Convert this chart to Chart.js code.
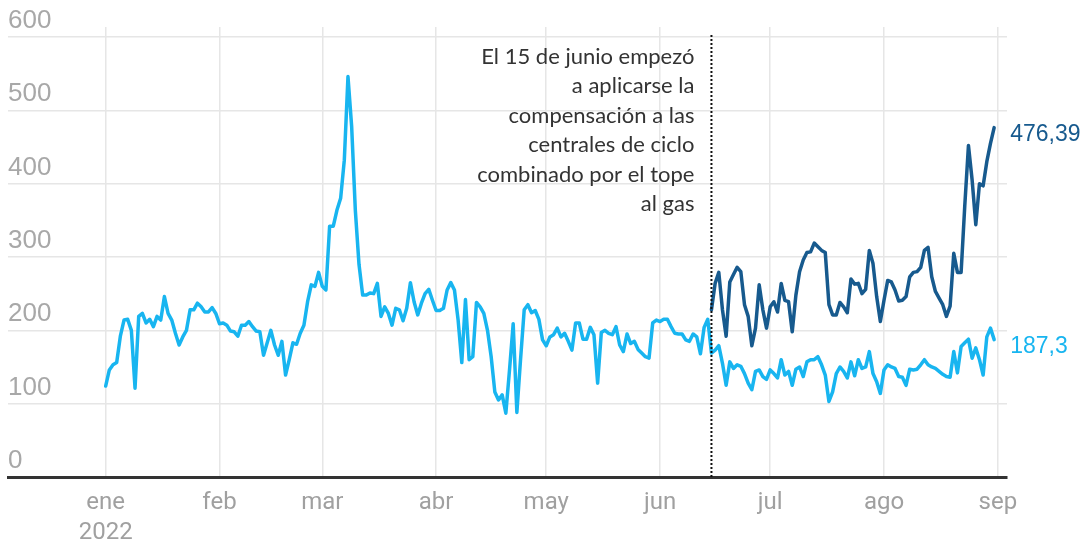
<!DOCTYPE html>
<html lang="es">
<head>
<meta charset="utf-8">
<title>Precio de la electricidad 2022</title>
<script src="https://cdn.jsdelivr.net/npm/chart.js@4.4.1/dist/chart.umd.min.js"></script>
<style>
  html, body { margin: 0; padding: 0; background: #fff; }
</style>
</head>
<body>
<canvas id="precioChart" width="1084" height="540"></canvas>
<script>
// eje x en días desde el 1 de enero de 2022
const meses = ['ene', 'feb', 'mar', 'abr', 'may', 'jun', 'jul', 'ago', 'sep'];
const inicioMes = [0, 31, 59, 90, 120, 151, 181, 212, 243];
const ejeY = [0, 100, 200, 300, 400, 500, 600];

// precio del mercado mayorista (€/MWh), diario desde el 1 de enero
const precioMercado = [
  124, 146, 153, 156, 192, 214, 215, 200, 121, 219,
  223, 210, 215, 205, 219, 214, 246, 223, 214, 196,
  180, 191, 200, 228, 228, 237, 232, 225, 225, 231,
  223, 209, 210, 207, 199, 198, 192, 207, 207, 212,
  205, 199, 198, 166, 183, 200, 180, 166, 185, 139,
  160, 183, 181, 196, 207, 239, 262, 260, 279, 260,
  255, 342, 342, 364, 380, 432, 546, 478, 364, 290,
  248, 248, 251, 250, 264, 219, 232, 223, 207, 230,
  228, 213, 230, 265, 239, 221, 237, 250, 256, 241,
  227, 227, 230, 255, 265, 255, 214, 156, 242, 160,
  164, 238, 232, 223, 200, 164, 116, 105, 112, 87,
  146, 209, 88, 160, 228, 235, 224, 227, 215, 187,
  179, 191, 194, 203, 191, 196, 185, 173, 210, 210,
  188, 188, 204, 194, 128, 197, 200, 196, 194, 205,
  180, 171, 195, 182, 185, 174, 169, 164, 162, 210,
  214, 212, 215, 215, 205, 196, 195, 195, 187, 185,
  195, 191, 168, 204, 215, 169, 173, 179, 155, 125,
  157, 148, 153, 151, 141, 128, 119, 144, 146, 137,
  133, 146, 141, 135, 160, 139, 144, 125, 147, 150,
  137, 157, 160, 160, 164, 153, 139, 103, 116, 141,
  150, 144, 135, 157, 138, 160, 148, 150, 171, 141,
  130, 114, 146, 153, 150, 148, 137, 136, 125, 147,
  146, 147, 153, 160, 153, 150, 148, 144, 140, 137,
  136, 171, 142, 178, 183, 188, 162, 176, 160, 139,
  191, 203, 187.3
];

// precio con la compensación a los ciclos combinados, desde el 15 de junio
const diaTope = 165;
const precioConCompensacion = [
  228, 264, 279, 228, 192, 266, 276, 286, 280, 235,
  219, 179, 203, 262, 228, 203, 232, 239, 225, 264,
  241, 239, 198, 248, 280, 296, 306, 307, 319, 314,
  309, 306, 235, 221, 221, 238, 232, 224, 270, 263,
  264, 250, 256, 309, 291, 246, 212, 241, 268, 266,
  255, 240, 241, 246, 273, 279, 280, 286, 309, 313,
  273, 253, 244, 235, 219, 233, 305, 279, 279, 370,
  452, 405, 344, 400, 397, 430, 455, 476.39
];

const nota = [
  'El 15 de junio empezó',
  'a aplicarse la',
  'compensación a las',
  'centrales de ciclo',
  'combinado por el tope',
  'al gas'
];

const colorClaro = '#18b5f0';
const colorOscuro = '#175a8e';

function aComa(v) {
  return String(v).replace('.', ',');
}

// línea punteada, nota y etiquetas del último valor
const anotaciones = {
  id: 'anotaciones',
  afterDatasetsDraw(chart) {
    const { ctx, chartArea, scales: { x } } = chart;
    const xTope = x.getPixelForValue(diaTope);
    ctx.save();
    ctx.strokeStyle = '#111';
    ctx.lineWidth = 2;
    ctx.setLineDash([2, 2]);
    ctx.beginPath();
    ctx.moveTo(xTope, chartArea.top + 8);
    ctx.lineTo(xTope, chartArea.bottom);
    ctx.stroke();
    ctx.setLineDash([]);

    ctx.font = '22px Lato';
    ctx.fillStyle = '#333';
    ctx.textAlign = 'right';
    ctx.textBaseline = 'middle';
    nota.forEach((linea, i) => {
      ctx.fillText(linea, xTope - 17, chartArea.top + 30 + i * 29.4);
    });

    ctx.textAlign = 'left';
    ctx.font = '23px "Liberation Sans", Arial, sans-serif';
    chart.data.datasets.forEach((ds, i) => {
      const meta = chart.getDatasetMeta(i);
      const ult = meta.data[meta.data.length - 1];
      const valor = ds.data[ds.data.length - 1].y;
      ctx.fillStyle = ds.borderColor;
      ctx.fillText(aComa(valor), ult.x + 16, ult.y + 7);
    });
    ctx.restore();
  }
};

function crearGrafico() {
  const ctx = document.getElementById('precioChart').getContext('2d');
  new Chart(ctx, {
    type: 'line',
    data: {
      datasets: [{
        label: 'Con compensación',
        data: precioConCompensacion.map((v, i) => ({ x: diaTope + i, y: v })),
        borderColor: colorOscuro,
        order: 0
      }, {
        label: 'Mercado mayorista',
        data: precioMercado.map((v, i) => ({ x: i, y: v })),
        borderColor: colorClaro,
        order: 1
      }]
    },
    options: {
      responsive: false,
      animation: false,
      layout: { padding: { left: 8, right: 77, top: 27, bottom: 0 } },
      elements: {
        point: { radius: 0 },
        line: { borderWidth: 3.5, tension: 0, borderJoinStyle: 'round', borderCapStyle: 'round' }
      },
      plugins: {
        legend: { display: false },
        tooltip: { enabled: false }
      },
      scales: {
        x: {
          type: 'linear',
          min: -26.6,
          max: 245.5,
          afterBuildTicks: scale => { scale.ticks = inicioMes.map(v => ({ value: v })); },
          afterFit: scale => { scale.height = 63; },
          grid: { color: '#e6e6e6', lineWidth: 1.5, drawTicks: false },
          border: { display: true, color: '#333', width: 3 },
          ticks: {
            autoSkip: false,
            maxRotation: 0,
            padding: 11,
            color: '#a0a0a0',
            font: { family: 'Roboto, sans-serif', size: 24, lineHeight: 1.25 },
            callback: v => {
              const i = inicioMes.indexOf(v);
              return i === 0 ? [meses[0], '2022'] : meses[i];
            }
          }
        },
        y: {
          min: 0,
          max: 613.6,
          afterBuildTicks: scale => { scale.ticks = ejeY.map(v => ({ value: v })); },
          grid: { color: '#e6e6e6', lineWidth: 1.5, drawTicks: false },
          border: { display: false },
          ticks: {
            mirror: true,
            padding: 0,
            labelOffset: -16,
            color: '#a8a8a8',
            font: { family: '"Liberation Sans", Arial, sans-serif', size: 26 }
          }
        }
      }
    },
    plugins: [anotaciones]
  });
}

document.fonts.load('22px Lato').then(crearGrafico, crearGrafico);
</script>
</body>
</html>
